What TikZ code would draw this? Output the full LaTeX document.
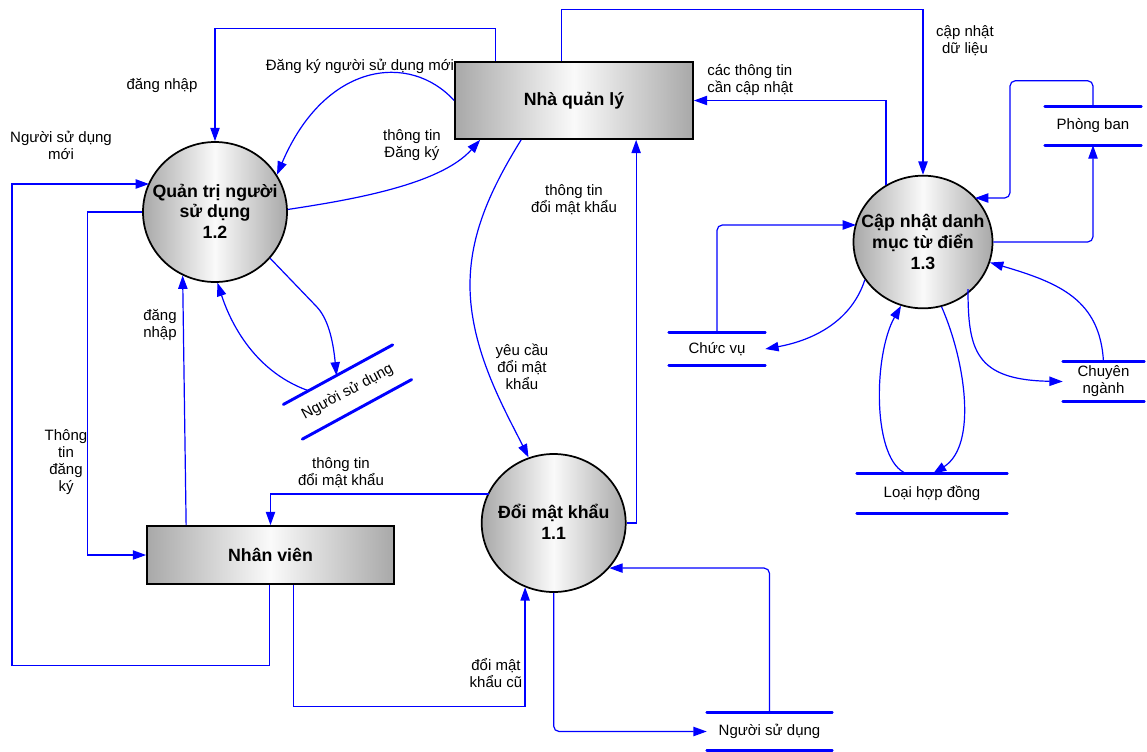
\documentclass[tikz,border=0pt]{standalone}
\usepackage{fontspec}
\setmainfont{Liberation Sans}
\usetikzlibrary{calc,arrows.meta,shapes.geometric}
\definecolor{shedge}{rgb}{0.66,0.66,0.66}
\definecolor{shmid}{rgb}{0.98,0.98,0.98}
\definecolor{flowblue}{rgb}{0,0,1}
\tikzset{
  flow/.style={draw=flowblue, line width=0.9pt, -{Triangle[length=10pt,width=7pt]}},
  storeline/.style={draw=flowblue, line width=2.2pt, line cap=round, -},
  entity/.style={draw=black, line width=1.3pt, left color=shedge, right color=shedge, middle color=shmid,
    font=\bfseries\fontsize{13.3}{15.4}\selectfont, inner sep=0pt},
  proc/.style={ellipse, draw=black, line width=1.3pt, left color=shedge, right color=shedge, middle color=shmid, inner sep=0pt},
  ptext/.style={font=\bfseries\fontsize{13.3}{15.4}\selectfont, align=center, inner sep=0pt},
  lbl/.style={font=\fontsize{11.25}{12.75}\selectfont, align=center, inner sep=0pt},
  store/.style 2 args={lbl, minimum width=#1, minimum height=#2,
    append after command={\pgfextra{\let\stnode=\tikzlastnode}
      (\stnode.north west) edge[storeline] (\stnode.north east)
      (\stnode.south west) edge[storeline] (\stnode.south east)}}
}
\begin{document}
\begin{tikzpicture}[x=0.75pt,y=-0.75pt]
\useasboundingbox (0,0) rectangle (1147,751);
% external entities
\node[entity, minimum width=178.5pt, minimum height=57.75pt] (nql) at (574,100.5) {Nhà quản lý};
\node[entity, minimum width=185.25pt, minimum height=43.5pt] (nv) at (270.5,555) {Nhân viên};
% processes
\node[proc, minimum width=108pt, minimum height=105pt] (c12) at (215,212) {};
\node[ptext] (t12) at (215,211) {Quản trị người\\sử dụng\\1.2};
\node[proc, minimum width=108pt, minimum height=103.5pt] (c11) at (553.7,523) {};
\node[ptext] (t11) at (553.7,522) {Đổi mật khẩu\\1.1};
\node[proc, minimum width=104.25pt, minimum height=99.5pt] (c13) at (923,242) {};
\node[ptext] (t13) at (923,242) {Cập nhật danh\\mục từ điển\\1.3};
% data stores
\node[store={72pt}{28.5pt}] (pb) at (1093,126) {Phòng ban};
\node[store={72pt}{24pt}] (cv) at (717,349) {Chức vụ};
\node[store={60.75pt}{29.25pt}] (chn) at (1103.5,381.5) {Chuyên\\ngành};
\node[store={112.5pt}{29.25pt}] (lhd) at (932,493.5) {Loại hợp đồng};
\node[store={93.75pt}{27.75pt}] (nsd) at (769.5,731.5) {Người sử dụng};
\node[store={93pt}{29.25pt}, rotate=28.6] (st1) at (347.5,392) {Người sử dụng};
% labels
\node[lbl] (l1) at (162,86) {đăng nhập};
\node[lbl] (l2) at (360,66) {Đăng ký người sử dụng mới};
\node[lbl] (l3) at (61,145) {Người sử dụng\\mới};
\node[lbl] (l4) at (412,145) {thông tin\\Đăng ký};
\node[lbl] (l5) at (574,200) {thông tin\\đổi mật khẩu};
\node[lbl, align=left, anchor=west] (l6) at (707,80) {các thông tin\\cần cập nhật};
\node[lbl] (l7) at (965,41) {cập nhật\\dữ liệu};
\node[lbl] (l8) at (522,367) {yêu cầu\\đổi mật\\khẩu};
\node[lbl] (l9) at (160,325) {đăng\\nhập};
\node[lbl] (l10) at (66,462) {Thông\\tin\\đăng\\ký};
\node[lbl] (l11) at (341,473) {thông tin\\đổi mật khẩu};
\node[lbl] (l12) at (496,673) {đổi mật\\khẩu cũ};
% flows
\draw[flow] ($(nql.north west)+(41,0)$) -- ++(0,-33) -| (c12.north);
\draw[flow] (nql.west) .. controls (410,52) and (325,62) .. (c12.31);
\draw[flow] (c12.2) .. controls (350,200) and (440,185) .. ($(nql.south west)+(26,0)$);
\coordinate (p4) at ($(c12.center)+(-66,-28)$);
\draw[flow] ($(nv.south west)+(123,0)$) -- ++(0,81) -| ($(p4)+(-137,0)$) -- (p4);
\draw[flow] (c12.west) -- ++(-55,0) |- (nv.west);
\draw[flow] ($(nv.north west)+(40,0)$) -- (c12.243);
\draw[flow] (c12.320) -- (316,306) .. controls (328,318) and (333,340) .. ($(st1.north west)!0.486!(st1.north east)$);
\draw[flow] ($(st1.north west)!0.23!(st1.north east)$) .. controls (250,370) and (228,315) .. (c12.272);
\draw[flow] ($(nql.south west)+(67,0)$) .. controls (490,190) and (470,235) .. (470,285) .. controls (470,350) and (505,410) .. (c11.111);
\draw[flow] (c11.east) -| ($(nql.south west)+(182,0)$);
\draw[flow] ($(c11.center)+(-65,-29)$) -| (nv.north);
\draw[flow] ($(nv.south west)+(147,0)$) -- ++(0,122) -| (c11.246);
\draw[flow, rounded corners=4pt] (c11.south) |- (nsd.west);
\draw[flow, rounded corners=4pt] (nsd.north) |- (c11.321);
\draw[flow] ($(nql.north west)+(107,0)$) -- ++(0,-52) -| (c13.north);
\draw[flow] (c13.123) |- (nql.east);
\coordinate (p17) at ($(c13.center)+(52,-44)$);
\draw[flow, rounded corners=4pt] (pb.north) -- ++(0,-26) -| ($(p17)+(35,0)$) -- (p17);
\draw[flow, rounded corners=4pt] (c13.east) -| (pb.south);
\draw[flow, rounded corners=4pt] (cv.north) |- ($(c13.center)+(-67,-17)$);
\draw[flow] (c13.213) .. controls (852,320) and (815,340) .. (cv.east);
\draw[flow] ($(c13.center)+(45,47)$) .. controls (968,350) and (975,380) .. (chn.west);
\draw[flow] (chn.north) .. controls (1100,300) and (1060,283) .. (c13.343);
\draw[flow] ($(lhd.north)+(-25,0)$) .. controls (872,462) and (873,355) .. (c13.251);
\draw[flow] (c13.286) .. controls (965,360) and (978,445) .. ($(lhd.north)+(1,0)$);
\end{tikzpicture}
\end{document}
